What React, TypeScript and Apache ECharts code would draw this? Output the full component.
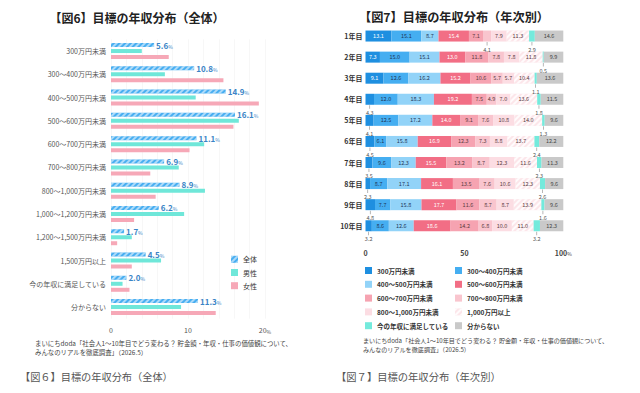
import React, { useEffect, useRef } from "react";
import * as echarts from "echarts";

// ---------- Fig 6 data ----------
const incomeCategories = [
  "300万円未満",
  "300～400万円未満",
  "400～500万円未満",
  "500～600万円未満",
  "600～700万円未満",
  "700～800万円未満",
  "800～1,000万円未満",
  "1,000～1,200万円未満",
  "1,200～1,500万円未満",
  "1,500万円以上",
  "今の年収に満足している",
  "分からない",
];
const totalShare = [5.6, 10.8, 14.9, 16.1, 11.1, 6.9, 8.9, 6.2, 1.7, 4.5, 2.0, 11.3];
const maleShare = [4.0, 7.0, 11.0, 16.6, 12.1, 8.8, 12.2, 9.5, 2.7, 6.5, 1.5, 9.1];
const femaleShare = [7.5, 14.6, 19.2, 15.9, 10.2, 5.1, 5.8, 3.0, 0.8, 2.7, 2.4, 13.6];
const genderNames = ["全体", "男性", "女性"];
const fig6Ticks = [0, 10, 20];

// ---------- Fig 7 data ----------
const yearLabels = ["1年目", "2年目", "3年目", "4年目", "5年目", "6年目", "7年目", "8年目", "9年目", "10年目"];
const bandNames = [
  "300万円未満",
  "300～400万円未満",
  "400～500万円未満",
  "500～600万円未満",
  "600～700万円未満",
  "700～800万円未満",
  "800～1,000万円未満",
  "1,000万円以上",
  "今の年収に満足している",
  "分からない",
];
const year1 = [13.1, 15.1, 8.7, 15.4, 7.1, 4.1, 7.9, 11.3, 2.9, 14.6];
const year2 = [7.3, 15.0, 15.1, 13.0, 11.8, 7.8, 7.8, 11.8, 0.5, 9.9];
const year3 = [9.1, 12.6, 16.2, 15.2, 10.6, 5.7, 5.7, 10.4, 1.1, 13.6];
const year4 = [4.3, 12.0, 18.3, 19.2, 7.5, 4.9, 7.0, 13.6, 1.8, 11.5];
const year5 = [4.1, 12.5, 17.2, 14.0, 9.1, 7.6, 10.8, 14.0, 1.3, 9.6];
const year6 = [4.5, 6.1, 15.8, 16.9, 12.3, 7.3, 8.8, 13.7, 2.4, 12.2];
const year7 = [3.5, 9.6, 12.3, 15.5, 13.2, 8.7, 12.3, 11.6, 2.3, 11.3];
const year8 = [2.3, 8.7, 17.1, 16.1, 13.5, 7.6, 10.6, 12.3, 2.6, 9.6];
const year9 = [4.8, 7.7, 15.8, 17.7, 11.6, 8.7, 8.7, 13.9, 1.6, 9.6];
const year10 = [3.2, 8.6, 12.6, 18.6, 14.2, 6.8, 10.0, 11.0, 3.2, 12.3];
const yearShares = [year1, year2, year3, year4, year5, year6, year7, year8, year9, year10];
const fig7Ticks = [0, 50, 100];

const FONT = "'Noto Sans CJK JP', 'Noto Sans', sans-serif";
const bandColors = [
  "#1E8FE0",
  "#45AEF1",
  "#92D3F8",
  "#F26E85",
  "#F6A3B1",
  "#F9C5CE",
  "#FCDDE3",
  "#FCE6EA",
  "#74EADC",
  "#C9C9C9",
];
const bandTextColors = ["#ffffff", "#1d3557", "#1d3557", "#ffffff", "#5a3a40", "#5a3a40", "#5a3a40", "#5a3a40", "#333", "#444"];

const hatch = (color: string) => ({
  symbol: "rect",
  symbolSize: 1,
  color,
  dashArrayX: [1, 0],
  dashArrayY: [1.5, 2],
  rotation: -Math.PI / 4,
});

export default function App() {
  const ref = useRef<HTMLDivElement>(null);
  useEffect(() => {
    if (!ref.current) return;
    const chart = echarts.init(ref.current, undefined, { renderer: "svg" });

    const fig6Colors = ["#48AEF1", "#6FE7D9", "#F6A8B7"];
    const fig6Data = [totalShare, maleShare, femaleShare];
    const fig6Series = genderNames.map((name, i) => ({
      name,
      type: "bar",
      xAxisIndex: 0,
      yAxisIndex: 0,
      barWidth: 4,
      barGap: "50%",
      data: fig6Data[i],
      itemStyle: i === 0 ? { color: fig6Colors[i], decal: hatch("rgba(255,255,255,0.55)") } : { color: fig6Colors[i] },
      label:
        i === 0
          ? {
              show: true,
              position: "right",
              distance: 2,
              formatter: (p: any) => `{v|${Number(p.value).toFixed(1)}}{p|%}`,
              rich: {
                v: { fontSize: 8, fontWeight: "bold", color: "#3A84C6", fontFamily: FONT },
                p: { fontSize: 5, color: "#3A84C6", fontFamily: FONT, padding: [2, 0, 0, 0] },
              },
            }
          : { show: false },
    }));

    const fig7Series = bandNames.map((name, bi) => ({
      name,
      type: "bar",
      stack: "years",
      xAxisIndex: 1,
      yAxisIndex: 1,
      barWidth: 11,
      itemStyle:
        bi === 7
          ? { color: bandColors[bi], decal: hatch("rgba(255,255,255,0.85)") }
          : { color: bandColors[bi] },
      data: yearLabels.map((_, yi) => {
        const v = yearShares[yi][bi];
        const outside = v < 4.85;
        return {
          value: v,
          label: outside
            ? {
                show: true,
                position: "bottom",
                distance: 0,
                formatter: `{t| }\n{v|${v.toFixed(1)}}`,
                rich: {
                  t: { width: 0.6, height: 3.5, backgroundColor: "#888", fontSize: 1, lineHeight: 4.5 },
                  v: { fontSize: 5.5, color: "#555", fontFamily: FONT, lineHeight: 7 },
                },
              }
            : {
                show: true,
                position: "inside",
                formatter: v.toFixed(1),
                fontSize: 5.5,
                color: bandTextColors[bi],
                fontFamily: FONT,
              },
        };
      }),
    }));

    const legendText = { fontSize: 6.5, color: "#333", fontWeight: "bold", fontFamily: FONT };

    const option: any = {
      animation: false,
      backgroundColor: "#ffffff",
      textStyle: { fontFamily: FONT },
      grid: [
        { left: 111, width: 154, top: 39.4, height: 279.3, containLabel: false },
        { left: 365.5, width: 197.8, top: 25.5, height: 210.8, containLabel: false },
      ],
      xAxis: [
        {
          gridIndex: 0,
          type: "value",
          min: 0,
          max: 20,
          interval: 2,
          axisLine: { show: false },
          axisTick: { show: false },
          splitLine: { show: true, lineStyle: { color: "#f1f1f1", width: 0.6 } },
          axisLabel: {
            margin: 8,
            formatter: (v: number) =>
              fig6Ticks.includes(v) ? (v === fig6Ticks[fig6Ticks.length - 1] ? `{n|${v}}{p|%}` : `{n|${v}}`) : "",
            rich: {
              n: { fontSize: 7, color: "#555", fontFamily: FONT },
              p: { fontSize: 5, color: "#555", fontFamily: FONT, padding: [2, 0, 0, 0] },
            },
          },
        },
        {
          gridIndex: 1,
          type: "value",
          min: 0,
          max: 100,
          interval: 50,
          axisLine: { show: false },
          axisTick: { show: false },
          splitLine: { show: false },
          axisLabel: {
            margin: 13,
            formatter: (v: number) =>
              fig7Ticks.includes(v) ? (v === 100 ? `{n|${v}}{p|%}` : `{n|${v}}`) : "",
            rich: {
              n: { fontSize: 7, color: "#444", fontWeight: "bold", fontFamily: FONT },
              p: { fontSize: 5, color: "#444", fontFamily: FONT, padding: [2, 0, 0, 0] },
            },
          },
        },
      ],
      yAxis: [
        {
          gridIndex: 0,
          type: "category",
          inverse: true,
          data: incomeCategories,
          axisLine: { show: false },
          axisTick: { show: false },
          axisLabel: { fontSize: 7, color: "#555", margin: 5, fontFamily: FONT },
        },
        {
          gridIndex: 1,
          type: "category",
          inverse: true,
          data: yearLabels,
          axisLine: { show: false },
          axisTick: { show: false },
          axisLabel: { fontSize: 7, color: "#333", fontWeight: "bold", margin: 3, fontFamily: FONT },
        },
      ],
      legend: [
        {
          data: genderNames,
          orient: "vertical",
          left: 231,
          top: 255.8,
          padding: 0,
          itemWidth: 7,
          itemHeight: 7,
          itemGap: 6.2,
          icon: "rect",
          textStyle: { fontSize: 7, color: "#333", fontFamily: FONT },
          selectedMode: false,
        },
        {
          data: bandNames.filter((_, i) => i % 2 === 0),
          orient: "vertical",
          left: 365,
          top: 267,
          padding: 0,
          itemWidth: 7,
          itemHeight: 7,
          itemGap: 6.8,
          icon: "rect",
          textStyle: legendText,
          selectedMode: false,
        },
        {
          data: bandNames.filter((_, i) => i % 2 === 1),
          orient: "vertical",
          left: 455,
          top: 267,
          padding: 0,
          itemWidth: 7,
          itemHeight: 7,
          itemGap: 6.8,
          icon: "rect",
          textStyle: legendText,
          selectedMode: false,
        },
      ],
      graphic: [
        {
          type: "text",
          x: 137,
          y: 17,
          style: {
            text: "【図6】目標の年収分布（全体）",
            fontSize: 12,
            fontWeight: "bold",
            fill: "#222",
            fontFamily: FONT,
            align: "center",
            verticalAlign: "middle",
          },
        },
        {
          type: "text",
          x: 454,
          y: 17,
          style: {
            text: "【図7】目標の年収分布（年次別）",
            fontSize: 12.2,
            fontWeight: "bold",
            fill: "#222",
            fontFamily: FONT,
            align: "center",
            verticalAlign: "middle",
          },
        },
        {
          type: "text",
          left: 35,
          top: 339,
          style: {
            text: "まいにちdoda「社会人1～10年目でどう変わる？ 貯金額・年収・仕事の価値観について、\nみんなのリアルを徹底調査」（2026.5）",
            fontSize: 6.4,
            lineHeight: 9,
            fill: "#444",
            fontFamily: FONT,
          },
        },
        {
          type: "text",
          left: 363,
          top: 336,
          style: {
            text: "まいにちdoda「社会人1～10年目でどう変わる？ 貯金額・年収・仕事の価値観について、\nみんなのリアルを徹底調査」（2026.5）",
            fontSize: 6.1,
            lineHeight: 9,
            fill: "#444",
            fontFamily: FONT,
          },
        },
        {
          type: "text",
          left: 20,
          top: 371,
          style: { text: "【図６】目標の年収分布（全体）", fontSize: 10.2, fill: "#555", fontFamily: FONT },
        },
        {
          type: "text",
          left: 336,
          top: 371,
          style: { text: "【図７】目標の年収分布（年次別）", fontSize: 10.3, fill: "#555", fontFamily: FONT },
        },
      ],
      series: [...fig6Series, ...fig7Series],
    };

    chart.setOption(option);
    return () => chart.dispose();
  }, []);

  return (
    <div
      ref={ref}
      style={{ position: "fixed", left: 0, top: 0, width: 640, height: 393, background: "#fff" }}
    />
  );
}
